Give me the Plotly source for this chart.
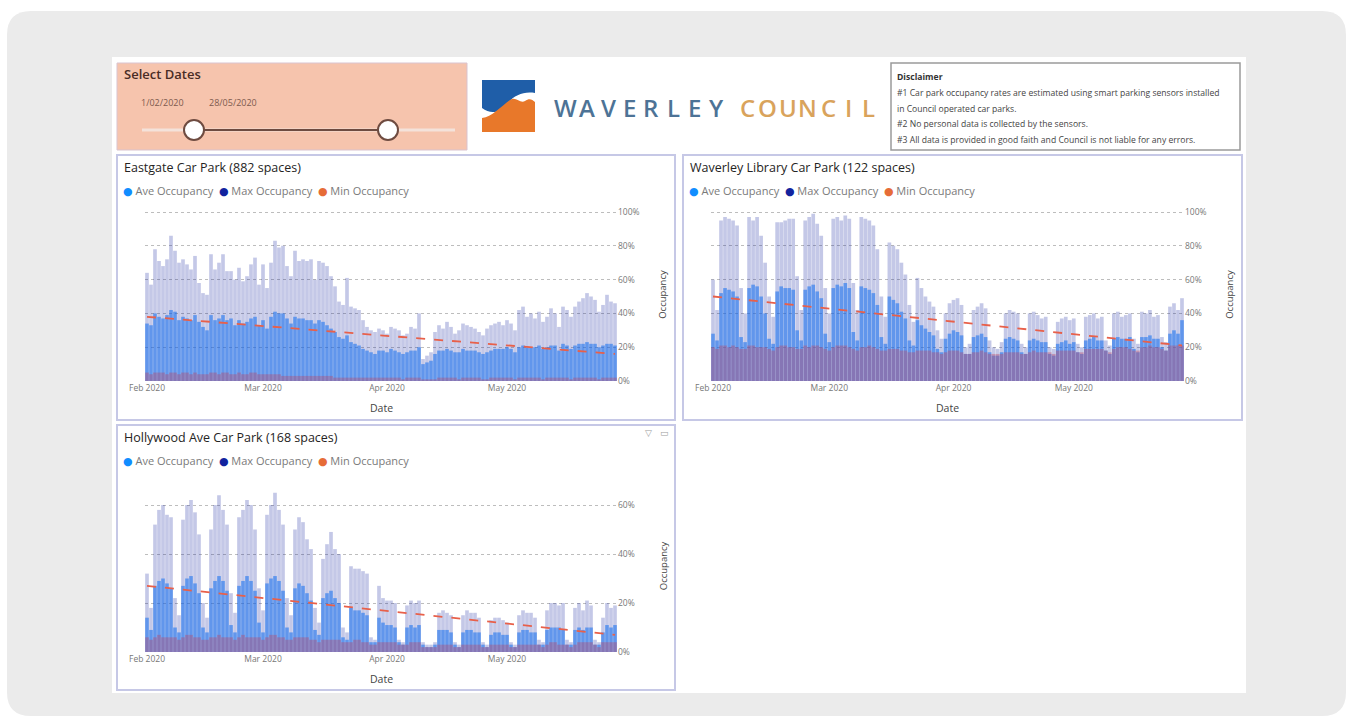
import pandas as pd
import plotly.graph_objects as go

W, H = 1352, 727

# Daily occupancy (%) from 1 Feb 2020 to 28 May 2020, one row per week (Sat..Fri)
dates = pd.date_range("2020-02-01", "2020-05-28", freq="D")

eastgate_max = [
    64, 57, 78, 71, 68, 72, 86,
    77, 70, 72, 69, 66, 74, 58,
    52, 51, 75, 66, 70, 75, 65,
    65, 60, 67, 59, 62, 69, 73,
    57, 69, 55, 70, 83, 79, 80,
    68, 62, 77, 71, 72, 71, 72,
    60, 71, 70, 68, 62, 56, 47,
    45, 61, 44, 43, 42, 36, 32,
    30, 29, 31, 30, 28, 32, 31,
    30, 27, 28, 32, 31, 40, 13,
    15, 17, 29, 33, 31, 35, 32,
    28, 30, 34, 33, 32, 31, 29,
    27, 31, 33, 34, 35, 33, 36,
    34, 30, 42, 44, 38, 40, 37,
    41, 35, 38, 43, 40, 32, 44,
    42, 38, 44, 47, 49, 52, 50,
    48, 41, 45, 51, 47, 46,
]
eastgate_ave = [
    34, 33, 40, 38, 37, 39, 42,
    41, 36, 38, 37, 36, 39, 35,
    32, 30, 39, 36, 37, 39, 36,
    37, 33, 36, 34, 35, 37, 38,
    33, 36, 31, 38, 41, 40, 40,
    37, 34, 38, 37, 37, 36, 36,
    34, 36, 35, 33, 31, 29, 26,
    25, 27, 23, 22, 21, 19, 18,
    17, 16, 18, 18, 17, 19, 18,
    17, 16, 17, 18, 18, 20, 10,
    11, 12, 16, 18, 18, 19, 18,
    17, 17, 19, 18, 18, 18, 17,
    16, 17, 18, 19, 19, 19, 20,
    19, 17, 20, 21, 20, 20, 20,
    21, 19, 20, 21, 21, 18, 22,
    21, 19, 21, 22, 22, 23, 22,
    22, 20, 21, 22, 22, 21,
]
eastgate_min = [
    5, 4, 5, 5, 5, 4, 5,
    5, 4, 5, 5, 4, 5, 4,
    4, 4, 5, 5, 4, 5, 5,
    4, 4, 5, 4, 4, 5, 5,
    4, 4, 4, 4, 4, 4, 3,
    3, 3, 3, 3, 3, 3, 3,
    3, 3, 3, 3, 3, 2, 2,
    2, 2, 2, 2, 2, 2, 2,
    2, 2, 2, 2, 2, 2, 2,
    2, 1, 2, 2, 2, 2, 1,
    1, 1, 1, 2, 2, 2, 2,
    2, 1, 2, 2, 2, 2, 2,
    1, 1, 2, 2, 2, 2, 2,
    2, 1, 2, 2, 2, 2, 2,
    2, 1, 2, 2, 2, 2, 2,
    2, 1, 2, 2, 2, 2, 2,
    2, 1, 2, 2, 2, 2,
]
eastgate_trend = [38, 16]

library_max = [
    60, 42, 95, 97, 96, 95, 92,
    55, 40, 97, 95, 97, 86, 70,
    50, 38, 94, 94, 95, 96, 96,
    62, 42, 95, 97, 99, 93, 86,
    55, 40, 96, 97, 95, 98, 96,
    58, 42, 97, 96, 95, 92, 78,
    50, 38, 82, 80, 78, 70, 63,
    45, 35, 61, 55, 50, 47, 44,
    30, 25, 40, 46, 48, 49, 45,
    20, 22, 42, 44, 46, 43, 24,
    20, 19, 23, 40, 42, 41, 40,
    22, 20, 40, 41, 39, 37, 38,
    20, 19, 35, 37, 38, 36, 37,
    22, 20, 38, 39, 40, 37, 38,
    24, 21, 40, 41, 38, 39, 40,
    25, 22, 41, 40, 42, 38, 39,
    26, 23, 44, 46, 42, 49,
]
library_ave = [
    28, 24, 52, 55, 54, 53, 50,
    26, 23, 55, 57, 56, 50, 40,
    25, 22, 53, 56, 55, 55, 54,
    30, 24, 54, 56, 57, 53, 49,
    28, 23, 55, 57, 56, 58, 55,
    29, 24, 56, 55, 54, 52, 45,
    26, 22, 50, 48, 46, 41, 37,
    24, 21, 36, 33, 31, 29, 27,
    19, 17, 25, 28, 30, 29, 27,
    16, 16, 26, 27, 28, 26, 17,
    15, 15, 17, 25, 26, 25, 24,
    17, 16, 24, 25, 24, 23, 23,
    16, 15, 22, 23, 24, 22, 23,
    17, 16, 24, 25, 26, 24, 24,
    18, 16, 25, 26, 25, 25, 26,
    19, 17, 26, 26, 27, 25, 25,
    20, 18, 28, 30, 28, 36,
]
library_min = [
    20, 19, 21, 21, 20, 21, 20,
    19, 19, 21, 21, 20, 20, 20,
    19, 18, 20, 21, 21, 20, 20,
    19, 19, 21, 20, 21, 21, 20,
    19, 18, 20, 21, 21, 21, 20,
    19, 18, 20, 20, 21, 20, 19,
    18, 18, 19, 19, 19, 18, 18,
    17, 17, 18, 18, 18, 18, 17,
    17, 16, 17, 18, 18, 18, 17,
    16, 16, 17, 17, 18, 17, 16,
    16, 16, 16, 17, 17, 17, 17,
    16, 16, 17, 18, 17, 17, 17,
    17, 16, 18, 18, 18, 18, 18,
    17, 17, 19, 19, 19, 19, 19,
    18, 17, 19, 20, 20, 20, 19,
    18, 18, 20, 20, 21, 20, 20,
    19, 18, 21, 21, 21, 21,
]
library_trend = [50, 21]

hollywood_max = [
    32, 18, 52, 58, 60, 56, 55,
    22, 15, 54, 60, 62, 57, 48,
    20, 14, 50, 60, 64, 58, 52,
    24, 16, 55, 58, 62, 60, 50,
    26, 17, 56, 60, 65, 58, 52,
    22, 15, 50, 55, 53, 46, 42,
    18, 12, 38, 44, 49, 42, 40,
    10, 8, 35, 34, 34, 33, 32,
    6, 5, 27, 22, 21, 21, 20,
    5, 4, 19, 21, 20, 21, 4,
    3, 3, 4, 16, 17, 16, 15,
    4, 3, 15, 17, 16, 16, 14,
    4, 3, 13, 14, 14, 13, 12,
    4, 3, 15, 17, 16, 16, 14,
    5, 4, 17, 20, 20, 19, 20,
    5, 4, 18, 20, 17, 21, 19,
    5, 4, 14, 20, 18, 19,
]
hollywood_ave = [
    14, 9, 27, 29, 30, 28, 26,
    10, 8, 27, 30, 31, 28, 24,
    10, 8, 26, 29, 31, 29, 25,
    11, 8, 27, 29, 31, 29, 25,
    12, 8, 28, 30, 31, 29, 25,
    10, 8, 26, 28, 27, 24, 21,
    9, 7, 22, 24, 25, 22, 20,
    6, 5, 18, 17, 17, 16, 15,
    4, 4, 14, 12, 11, 11, 10,
    4, 3, 10, 11, 10, 11, 3,
    2, 2, 3, 9, 9, 9, 8,
    3, 2, 8, 9, 9, 8, 8,
    3, 2, 7, 8, 8, 7, 7,
    3, 2, 8, 9, 9, 8, 8,
    3, 3, 9, 10, 10, 10, 9,
    3, 3, 9, 10, 9, 10, 10,
    3, 3, 8, 11, 10, 11,
]
hollywood_min = [
    6, 5, 6, 7, 6, 6, 6,
    6, 5, 6, 7, 7, 6, 6,
    5, 5, 6, 6, 7, 6, 6,
    6, 5, 6, 7, 6, 6, 6,
    6, 5, 6, 7, 7, 6, 6,
    5, 5, 6, 6, 6, 6, 5,
    5, 4, 5, 5, 5, 5, 5,
    4, 4, 4, 5, 5, 4, 4,
    3, 3, 4, 4, 4, 4, 4,
    3, 3, 3, 4, 4, 4, 2,
    2, 2, 2, 3, 3, 3, 3,
    2, 2, 3, 3, 3, 3, 3,
    2, 2, 3, 3, 3, 3, 3,
    2, 2, 3, 3, 3, 3, 3,
    3, 2, 3, 4, 4, 3, 3,
    3, 2, 3, 4, 4, 4, 4,
    3, 2, 4, 4, 4, 4,
]
hollywood_trend = [27, 7]

series_names = ["Ave Occupancy", "Max Occupancy", "Min Occupancy"]
month_ticks = ["2020-02-01", "2020-03-01", "2020-04-01", "2020-05-01"]
month_labels = ["Feb 2020", "Mar 2020", "Apr 2020", "May 2020"]
slider_dates = ["1/02/2020", "28/05/2020"]
disclaimer_lines = [
    "#1 Car park occupancy rates are estimated using smart parking sensors installed",
    "in Council operated car parks.",
    "#2 No personal data is collected by the sensors.",
    "#3 All data is provided in good faith and Council is not liable for any errors.",
]

FONT = "Open Sans, Noto Sans, DejaVu Sans, sans-serif"
C_MAX = "rgba(18,35,158,0.25)"
C_AVE = "rgba(17,110,240,0.55)"
C_MIN = "rgba(190,70,100,0.40)"
C_TREND = "#e8604a"
LEGEND_DOTS = ["#118DFF", "#12239E", "#E66C37"]


def X(px):
    return px / W


def Y(py):
    return 1 - py / H


def curve_path(cmds):
    # cmds: list of (letter, [(x, y), ...]) in pixel space
    out = []
    for letter, pts in cmds:
        out.append(letter + " ".join(f"{X(x):.5f},{Y(y):.5f}" for x, y in pts))
    return " ".join(out) + " Z"


def rounded_rect(x0, y0, x1, y1, r):
    return curve_path([
        ("M", [(x0 + r, y0)]),
        ("L", [(x1 - r, y0)]),
        ("Q", [(x1, y0), (x1, y0 + r)]),
        ("L", [(x1, y1 - r)]),
        ("Q", [(x1, y1), (x1 - r, y1)]),
        ("L", [(x0 + r, y1)]),
        ("Q", [(x0, y1), (x0, y1 - r)]),
        ("L", [(x0, y0 + r)]),
        ("Q", [(x0, y0), (x0 + r, y0)]),
    ])


shapes = []
annotations = []


def rect(x0, y0, x1, y1, fill=None, line=None, width=1):
    shapes.append(dict(
        type="rect", xref="paper", yref="paper", layer="below",
        x0=X(x0), x1=X(x1), y0=Y(y1), y1=Y(y0),
        fillcolor=fill or "rgba(0,0,0,0)",
        line=dict(color=line or "rgba(0,0,0,0)", width=width if line else 0),
    ))


def text(x, y, s, size=9, color="#444", xanchor="left", yanchor="middle", angle=0,
         family=FONT, weight="normal"):
    annotations.append(dict(
        x=X(x), y=Y(y), xref="paper", yref="paper", text=s, showarrow=False,
        xanchor=xanchor, yanchor=yanchor, textangle=angle,
        font=dict(size=size, color=color, family=family, weight=weight),
    ))


# Page background, dashboard canvas
shapes.append(dict(type="path", xref="paper", yref="paper", layer="below",
                   path=rounded_rect(7, 11, 1346, 716, 24),
                   fillcolor="#ebebeb", line=dict(width=0)))
rect(112, 57, 1246, 693, fill="#ffffff")

# Date slicer
rect(117, 63, 467, 150, fill="#f6c4ad", line="#d9c3cf", width=1)
text(122, 74, "Select Dates", size=13, color="#4a2c25", weight=600)
text(139, 102, slider_dates[0], size=9, color="#7d5a4e")
text(207, 102, slider_dates[1], size=9, color="#7d5a4e")
shapes.append(dict(type="line", xref="paper", yref="paper", layer="below",
                   x0=X(142), x1=X(455), y0=Y(130), y1=Y(130),
                   line=dict(color="#f4e2da", width=3)))
shapes.append(dict(type="line", xref="paper", yref="paper", layer="below",
                   x0=X(194), x1=X(388), y0=Y(130), y1=Y(130),
                   line=dict(color="#6e4b40", width=2)))
for hx in (194, 388):
    shapes.append(dict(type="circle", xref="paper", yref="paper", layer="below",
                       x0=X(hx - 10), x1=X(hx + 10), y0=Y(140), y1=Y(120),
                       fillcolor="#ffffff", line=dict(color="#6e4b40", width=2)))

# Council logo
shapes.append(dict(type="path", xref="paper", yref="paper", layer="below",
                   path=curve_path([
                       ("M", [(482, 80)]), ("L", [(535, 80)]), ("L", [(535, 93)]),
                       ("C", [(524, 91), (514, 95), (507, 104)]),
                       ("C", [(499, 114), (490, 114), (482, 108)]),
                   ]), fillcolor="#1f5ea8", line=dict(width=0)))
shapes.append(dict(type="path", xref="paper", yref="paper", layer="below",
                   path=curve_path([
                       ("M", [(482, 118)]),
                       ("C", [(492, 117), (500, 107), (510, 100)]),
                       ("C", [(516, 96), (520, 104), (525, 101)]),
                       ("C", [(529, 98), (532, 99), (535, 102)]),
                       ("L", [(535, 132)]), ("L", [(482, 132)]),
                   ]), fillcolor="#e8782a", line=dict(width=0)))
for i, ch in enumerate("WAVERLEY"):
    text(565 + i * 21.6, 107, ch, size=24, color="#4d7396", xanchor="center", weight=600)
for i, ch in enumerate("COUNCIL"):
    text(747 + i * 20.3, 107, ch, size=24, color="#d9a35c", xanchor="center", weight=600)

# Disclaimer card
rect(891, 63, 1240, 150, fill="#ffffff", line="#9a9a9a", width=1.5)
text(895, 77, "<b>Disclaimer</b>", size=8.6, color="#333")
for i, line in enumerate(disclaimer_lines):
    text(895, 93 + i * 15.5, line, size=8.6, color="#444")

# Chart panels
panels = [
    dict(title="Eastgate Car Park (882 spaces)", box=(117, 155, 675, 420),
         plot=(145, 617), ybot=381, ytop_val=100, ytop_px=212, yrange=102,
         mx=eastgate_max, av=eastgate_ave, mn=eastgate_min, tr=eastgate_trend),
    dict(title="Waverley Library Car Park (122 spaces)", box=(683, 155, 1242, 420),
         plot=(711, 1184), ybot=381, ytop_val=100, ytop_px=212, yrange=102,
         mx=library_max, av=library_ave, mn=library_min, tr=library_trend),
    dict(title="Hollywood Ave Car Park (168 spaces)", box=(117, 425, 675, 690),
         plot=(145, 617), ybot=652, ytop_val=60, ytop_px=505, yrange=70,
         mx=hollywood_max, av=hollywood_ave, mn=hollywood_min, tr=hollywood_trend),
]

fig = go.Figure()
layout_axes = {}

for i, p in enumerate(panels):
    sfx = "" if i == 0 else str(i + 1)
    xa, ya = "x" + sfx, "y" + sfx
    bx0, by0, bx1, by1 = p["box"]
    rect(bx0, by0, bx1, by1, fill="#ffffff", line="#c6c8e6", width=2)
    text(bx0 + 5, by0 + 12, p["title"], size=12.5, color="#252423")
    legend = "  ".join(
        f"<span style='color:{c}'>●</span> {n}" for c, n in zip(LEGEND_DOTS, series_names)
    )
    text(bx0 + 4, by0 + 35, legend, size=11, color="#7a7a7a")

    px0, px1 = p["plot"]
    per_unit = (p["ybot"] - p["ytop_px"]) / p["ytop_val"]
    ytop = p["ybot"] - p["yrange"] * per_unit

    for vals, col in ((p["mx"], C_MAX), (p["av"], C_AVE), (p["mn"], C_MIN)):
        fig.add_trace(go.Bar(
            x=dates, y=vals, xaxis=xa, yaxis=ya, showlegend=False,
            marker=dict(color=col, line=dict(width=0)), hoverinfo="x+y",
        ))
    fig.add_trace(go.Scatter(
        x=[dates[0], dates[-1]], y=p["tr"], xaxis=xa, yaxis=ya, mode="lines",
        showlegend=False, line=dict(color=C_TREND, width=1.8, dash="dash"),
        hoverinfo="skip",
    ))

    layout_axes["xaxis" + sfx] = dict(
        domain=[X(px0), X(px1)], anchor=ya, type="date", automargin=False,
        range=["2020-01-31 12:00", "2020-05-28 12:00"],
        tickvals=month_ticks, ticktext=month_labels,
        showgrid=False, zeroline=False, showline=False, ticks="",
        tickfont=dict(size=8.5, color="#777", family=FONT),
    )
    layout_axes["yaxis" + sfx] = dict(
        domain=[Y(p["ybot"]), Y(ytop)], anchor=xa, side="right", automargin=False,
        range=[0, p["yrange"]], dtick=20, ticksuffix="%",
        showgrid=True, gridcolor="#bdbdbd", griddash="dot", gridwidth=1,
        zeroline=False, showline=False, ticks="",
        tickfont=dict(size=8.5, color="#777", family=FONT),
    )
    text((px0 + px1) / 2, p["ybot"] + 27, "Date", size=10.5, color="#444", xanchor="center")
    text(bx1 - 12, (p["ybot"] + ytop) / 2, "Occupancy", size=9.5, color="#444",
         xanchor="center", angle=-90)

# Focus-mode / filter icons on the Hollywood card
text(648, 433, "▽", size=9, color="#a0a0a0", xanchor="center", family="DejaVu Sans")
text(664, 433, "▭", size=9, color="#a0a0a0", xanchor="center", family="DejaVu Sans")

fig.update_layout(
    width=W, height=H, margin=dict(l=0, r=0, t=0, b=0, pad=0, autoexpand=False),
    paper_bgcolor="#ffffff", plot_bgcolor="rgba(0,0,0,0)",
    barmode="overlay", bargap=0.08,
    font=dict(family=FONT),
    shapes=shapes, annotations=annotations,
    **layout_axes,
)

fig.write_html("out.html")
